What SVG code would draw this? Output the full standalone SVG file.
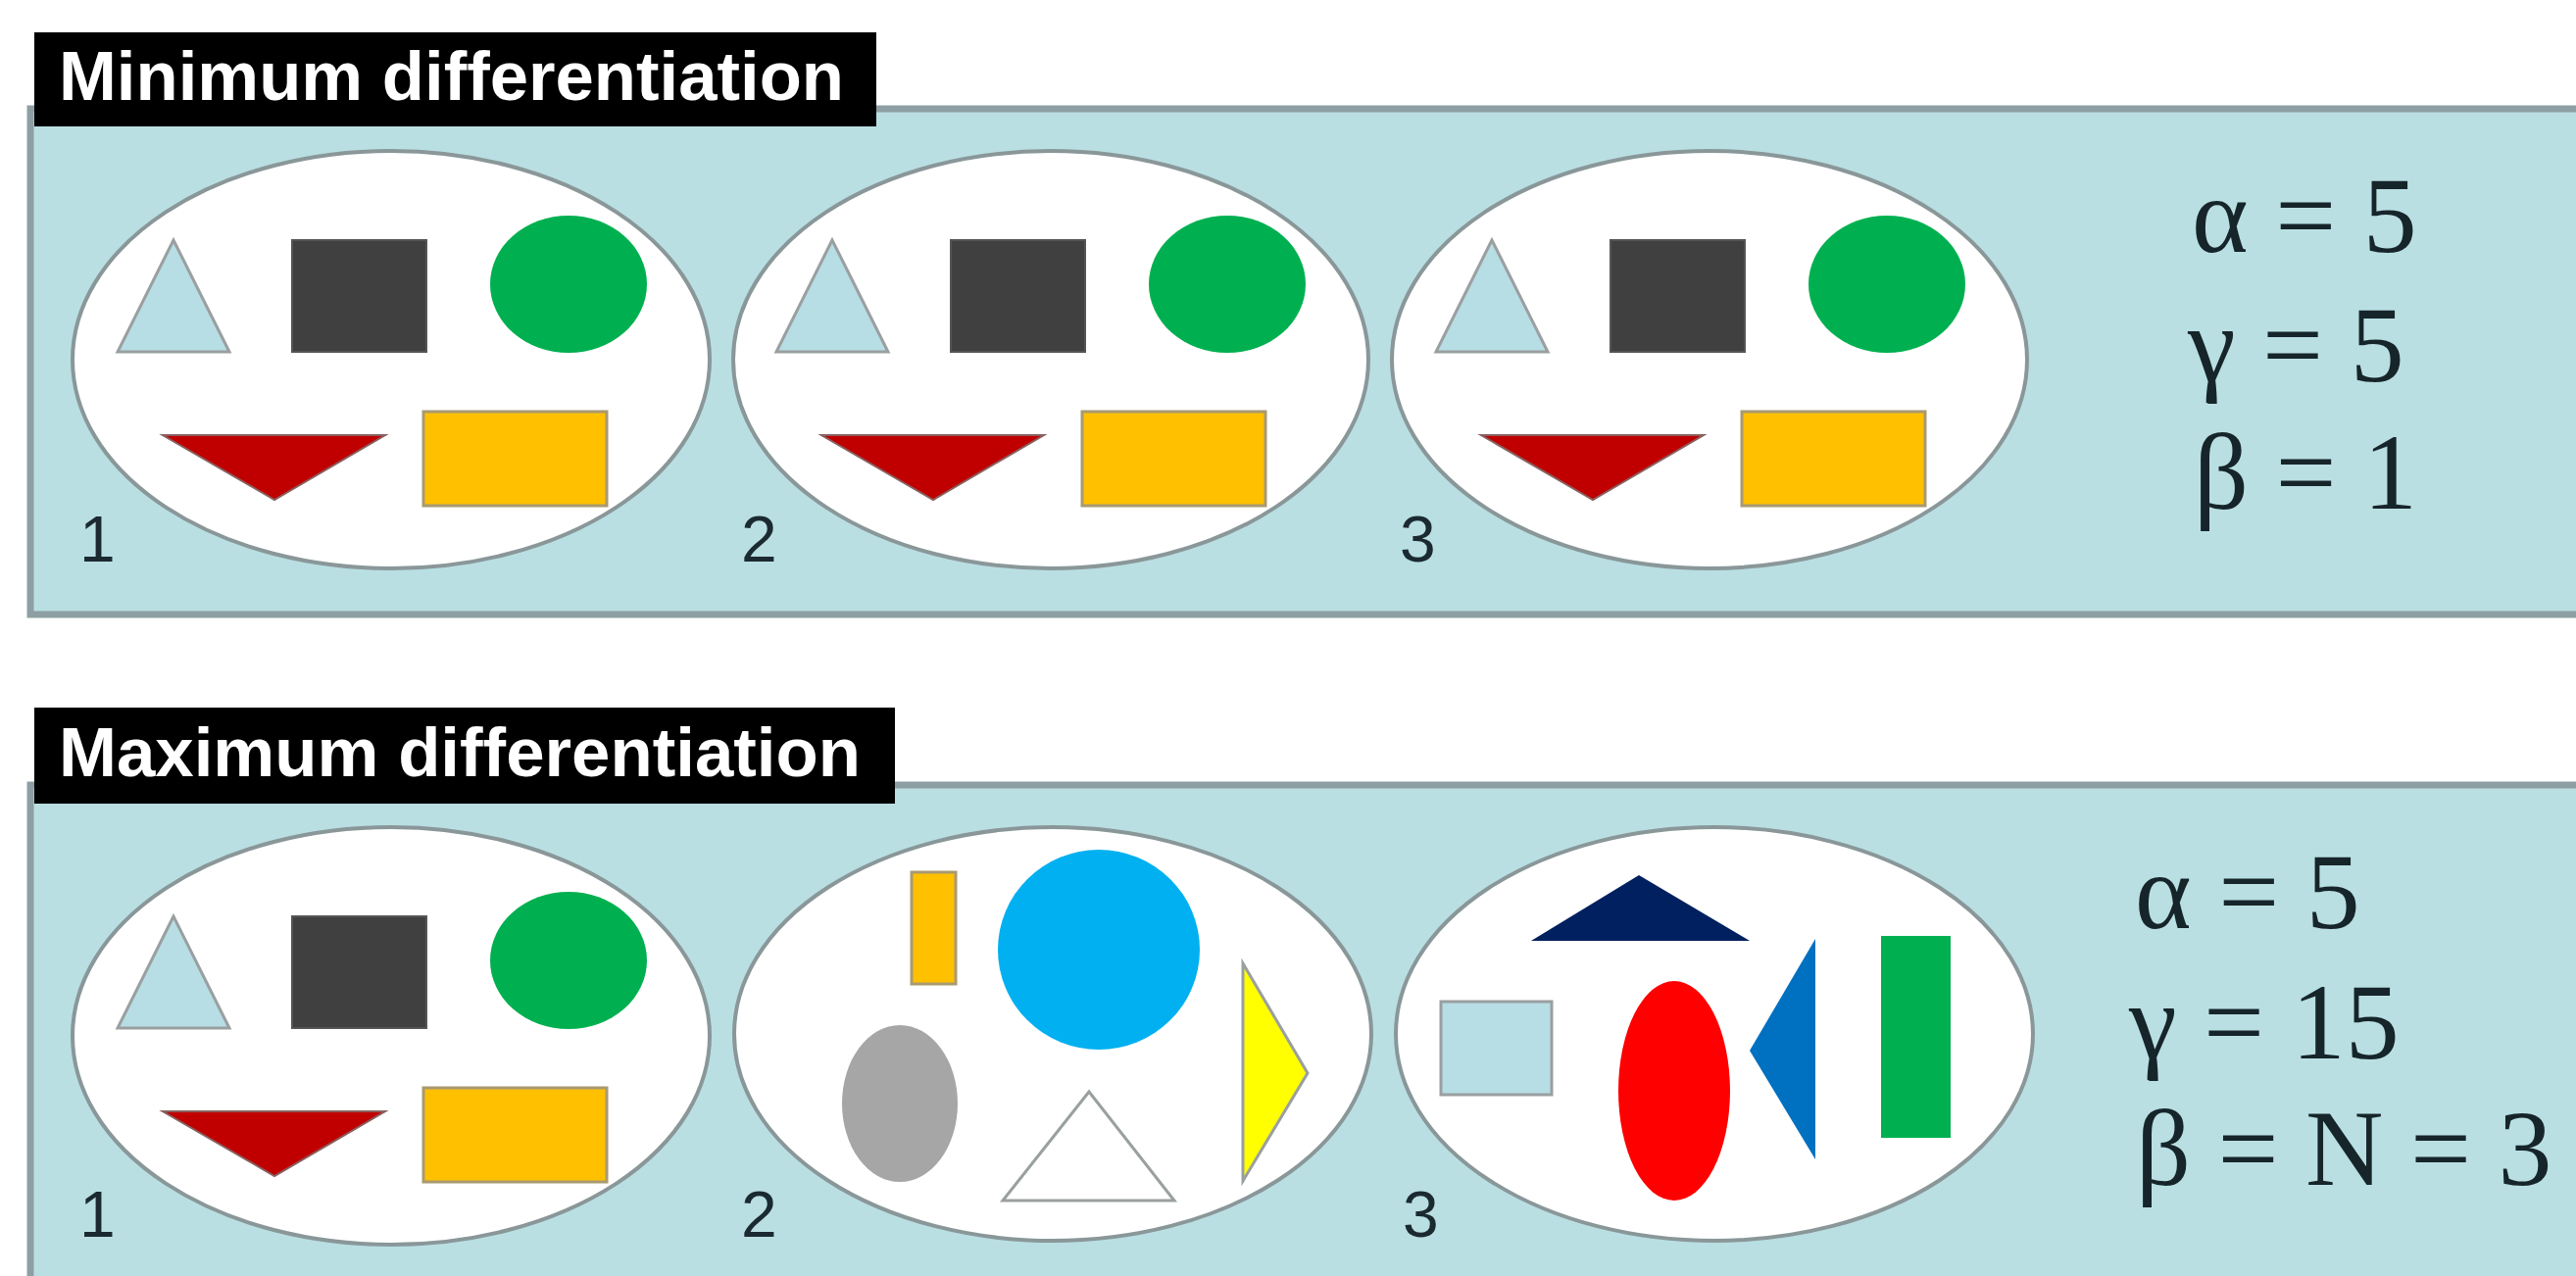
<svg xmlns="http://www.w3.org/2000/svg" xmlns:xlink="http://www.w3.org/1999/xlink" width="2628" height="1302" viewBox="0 0 2628 1302">
<style>
.panel{fill:#b9dfe3;stroke:#8d9fa2;stroke-width:7}
.title-box{fill:#000000}
.title{font-family:"Liberation Sans",Arial,sans-serif;font-weight:bold;font-size:71px;fill:#ffffff}
.cell{fill:#ffffff;stroke:#8a9799;stroke-width:4}
.num{font-family:"Liberation Sans",Arial,sans-serif;font-size:66px;fill:#1b2a30}
.eq{font-family:"Liberation Serif","Times New Roman",serif;font-size:110px;fill:#16252a}
.outl{stroke:#9a9fa0;stroke-width:3}
</style>
<defs>
<g id="baseSet">
<polygon points="177,245 120,359 234,359" fill="#b7dde5" class="outl"/>
<rect x="298" y="245" width="137" height="114" fill="#404040" stroke="#555555" stroke-width="2"/>
<ellipse cx="580" cy="290" rx="80" ry="70" fill="#00b050"/>
<polygon points="166,444 393,444 280,510" fill="#c00000" stroke="#8a6060" stroke-width="2"/>
<rect x="432" y="420" width="187" height="96" fill="#ffc000" stroke="#a89a70" stroke-width="3"/>
</g>
</defs>

<g id="panel-minimum">
<rect class="panel" x="31" y="111" width="2610" height="516"/>
<g id="title-minimum">
<rect class="title-box" x="35" y="33" width="859" height="96"/>
<text class="title" x="60" y="102" textLength="801" lengthAdjust="spacingAndGlyphs">Minimum differentiation</text>
</g>
<g id="min-community-1">
<ellipse class="cell" cx="399" cy="367" rx="325" ry="213"/>
<use xlink:href="#baseSet" href="#baseSet"/>
<text class="num" x="81" y="573">1</text>
</g>
<g id="min-community-2">
<ellipse class="cell" cx="1072" cy="367" rx="324" ry="213"/>
<use xlink:href="#baseSet" href="#baseSet" transform="translate(672,0)"/>
<text class="num" x="756" y="573">2</text>
</g>
<g id="min-community-3">
<ellipse class="cell" cx="1744" cy="367" rx="324" ry="213"/>
<use xlink:href="#baseSet" href="#baseSet" transform="translate(1345,0)"/>
<text class="num" x="1428" y="573">3</text>
</g>
<g id="min-indices">
<text class="eq" x="2236" y="257">α = 5</text>
<text class="eq" x="2232" y="389">γ = 5</text>
<text class="eq" x="2238" y="519">β = 1</text>
</g>
</g>

<g id="panel-maximum">
<rect class="panel" x="31" y="801" width="2610" height="520"/>
<g id="title-maximum">
<rect class="title-box" x="35" y="722" width="878" height="98"/>
<text class="title" x="60" y="792" textLength="818" lengthAdjust="spacingAndGlyphs">Maximum differentiation</text>
</g>
<g id="max-community-1">
<ellipse class="cell" cx="399" cy="1057" rx="325" ry="213"/>
<use xlink:href="#baseSet" href="#baseSet" transform="translate(0,690)"/>
<text class="num" x="81" y="1262">1</text>
</g>
<g id="max-community-2">
<ellipse class="cell" cx="1074" cy="1055" rx="325" ry="211"/>
<rect x="930" y="890" width="45" height="114" fill="#ffc000" stroke="#a89a70" stroke-width="3"/>
<ellipse cx="1121" cy="969" rx="103" ry="102" fill="#00b0f0"/>
<ellipse cx="918" cy="1126" rx="59" ry="80" fill="#a6a6a6"/>
<polygon points="1111,1114 1023,1225 1198,1225" fill="#ffffff" class="outl"/>
<polygon points="1268,983 1334,1095 1268,1205" fill="#ffff00" class="outl"/>
<text class="num" x="756" y="1262">2</text>
</g>
<g id="max-community-3">
<ellipse class="cell" cx="1749" cy="1055" rx="325" ry="211"/>
<polygon points="1672,893 1562,960 1785,960" fill="#002060"/>
<rect x="1470" y="1022" width="113" height="95" fill="#b7dde5" class="outl"/>
<ellipse cx="1708" cy="1113" rx="57" ry="112" fill="#ff0000"/>
<polygon points="1852,958 1785,1072 1852,1183" fill="#0070c0"/>
<rect x="1919" y="955" width="71" height="206" fill="#00b050"/>
<text class="num" x="1431" y="1262">3</text>
</g>
<g id="max-indices">
<text class="eq" x="2178" y="947">α = 5</text>
<text class="eq" x="2172" y="1080">γ = 15</text>
<text class="eq" x="2179" y="1209">β = N = 3</text>
</g>
</g>
</svg>
